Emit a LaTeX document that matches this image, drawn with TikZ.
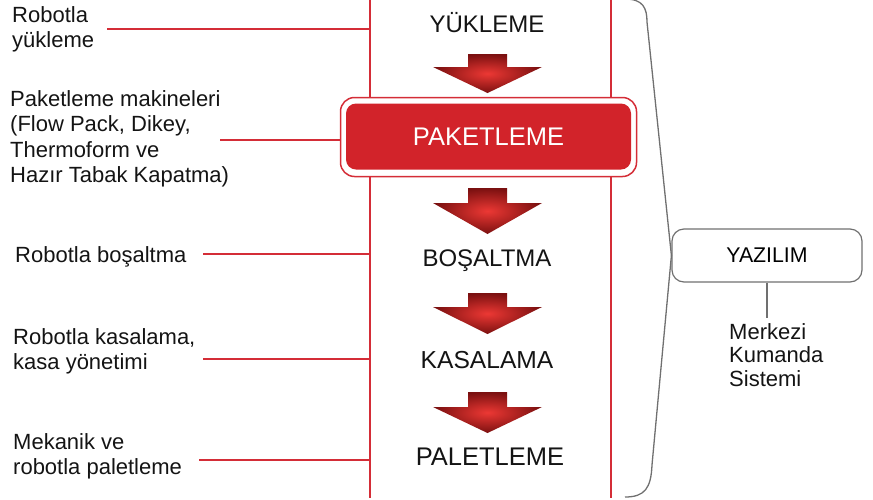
\documentclass[tikz,border=0pt]{standalone}
\usepackage{fontspec}
\setmainfont{Liberation Sans}
\usepackage{tikz}

\definecolor{linered}{RGB}{212,45,55}
\definecolor{boxred}{RGB}{210,35,42}
\definecolor{arrowlight}{RGB}{236,56,52}
\definecolor{arrowdark}{RGB}{122,16,16}
\definecolor{bracegray}{RGB}{112,112,112}

\tikzset{
  stage/.style={inner sep=0pt, text=black!92, font=\fontsize{24}{28}\selectfont},
  note/.style={inner sep=0pt, align=left, text=black!92, font=\fontsize{22}{25.5}\selectfont},
  link/.style={linered, line width=1.5pt},
  flowarrow/.style={shading=radial, inner color=arrowlight, outer color=arrowdark},
  soft/.style={bracegray, line width=1.3pt},
}

\begin{document}
\begin{tikzpicture}[x=1pt,y=-1pt]
    \useasboundingbox (0,0) rectangle (873,499);

    % stages in the middle column
    \node[stage,anchor=base] (load) at (487,32) {YÜKLEME};
    \node[draw=linered, line width=1.5pt, rounded corners=14pt,
          minimum width=296pt, minimum height=79pt] (packframe) at (488.5,137) {};
    \node[stage, fill=boxred, text=white, rounded corners=10pt,
          minimum width=285pt, minimum height=66pt,
          font=\fontsize{25.5}{30}\selectfont] (pack) at (488.5,136.5) {PAKETLEME};
    \node[stage,anchor=base] (unload) at (487,266) {BOŞALTMA};
    \node[stage,anchor=base,font=\fontsize{24.6}{29}\selectfont] (crate) at (487,368) {KASALAMA};
    \node[stage,anchor=base,font=\fontsize{25.5}{30}\selectfont] (pallet) at (490,465) {PALETLEME};

    % arrows between the stages
    \foreach \ya/\yb/\yc in {54/67/93, 188/203/234, 293/307/334, 392/407/433}
      \shade[flowarrow] (468,\ya) -- (507,\ya) -- (507,\yb) -- (542,\yb)
        -- (487.5,\yc) -- (433,\yb) -- (468,\yb) -- cycle;

    % the two red rails
    \coordinate (ltop) at (370,0);
    \coordinate (lbot) at (370,498);
    \coordinate (rtop) at (611,0);
    \coordinate (rbot) at (611,498);
    \draw[link] (ltop) -- (ltop |- packframe.north);
    \draw[link] (ltop |- packframe.south) -- (lbot);
    \draw[link] (rtop) -- (rtop |- packframe.north);
    \draw[link] (rtop |- packframe.south) -- (rbot);

    % notes on the left
    \node[note,anchor=north west] (n1) at (12,6) {Robotla\\yükleme};
    \node[note,anchor=north west] (n2) at (10,90) {Paketleme makineleri\\(Flow Pack, Dikey,\\Thermoform ve\\Hazır Tabak Kapatma)};
    \node[note,anchor=north west] (n3) at (15,246) {Robotla boşaltma};
    \node[note,anchor=north west] (n4) at (13,328) {Robotla kasalama,\\kasa yönetimi};
    \node[note,anchor=north west] (n5) at (13,433) {Mekanik ve\\robotla paletleme};

    \coordinate (c1) at (107,29);
    \coordinate (c2) at (220,140);
    \coordinate (c3) at (203,254);
    \coordinate (c4) at (203,359);
    \coordinate (c5) at (199,460);
    \draw[link] (c1) -- (c1 -| ltop);
    \draw[link] (c2) -- (c2 -| packframe.west);
    \draw[link] (c3) -- (c3 -| ltop);
    \draw[link] (c4) -- (c4 -| ltop);
    \draw[link] (c5) -- (c5 -| ltop);

    % software part on the right
    \node[draw=bracegray, line width=1.2pt, rounded corners=12pt,
          minimum width=190pt, minimum height=53pt, inner sep=0pt,
          font=\fontsize{21.3}{25}\selectfont] (yaz) at (767,255.5) {YAZILIM};
    \node[note,anchor=north west,font=\fontsize{22}{23.5}\selectfont] (mks) at (729,323) {Merkezi\\Kumanda\\Sistemi};
    \draw[soft] (yaz.south) -- ([yshift=5pt]yaz.south |- mks.north);

    \draw[soft] (625,-1) .. controls (643,-1) and (647,8) .. (647,22)
        -- (yaz.west) -- (652,465) .. controls (651,488) and (645,497) .. (625,497);
\end{tikzpicture}
\end{document}
